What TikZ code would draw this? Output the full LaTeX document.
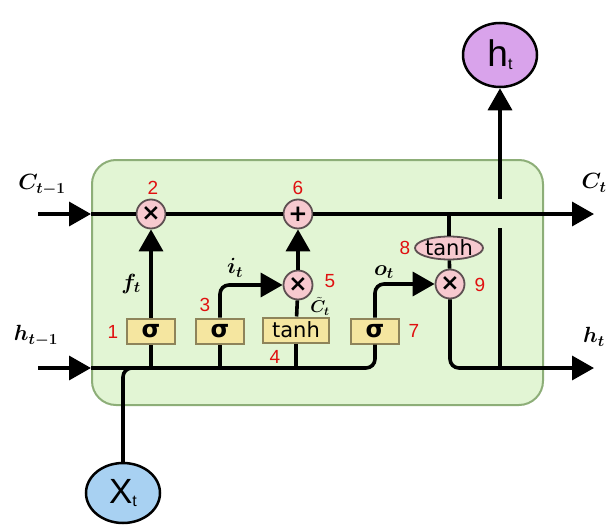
\RequirePackage{fix-cm}
\documentclass[tikz,border=0pt]{standalone}
\usepackage{fontspec}
\usepackage{bm}
\usetikzlibrary{arrows.meta,shapes.geometric}
\newfontfamily\lsans{Liberation Sans}
\newfontfamily\dvsans{DejaVu Sans}
\definecolor{cellfill}{HTML}{E2F5D4}
\definecolor{celledge}{HTML}{8DAE78}
\definecolor{gatefill}{HTML}{F5E6A0}
\definecolor{gateedge}{HTML}{8E845A}
\definecolor{opfill}{HTML}{F7C9CF}
\definecolor{opedge}{HTML}{5E5052}
\definecolor{xfill}{HTML}{A8D1F2}
\definecolor{hfill}{HTML}{D9A3EB}
\definecolor{numred}{HTML}{E01010}
\begin{document}
\begin{tikzpicture}[x=1pt,y=-1pt,
  wire/.style={line width=3.6pt, black},
  arr/.style={wire, -{Triangle[length=22pt,width=24pt]}},
  cellbox/.style={draw=celledge, fill=cellfill, line width=2pt, rounded corners=24pt},
  gate/.style={draw=gateedge, fill=gatefill, line width=2pt, minimum width=48pt, minimum height=25pt, inner sep=0pt, font=\dvsans\fontsize{21}{21}\selectfont},
  op/.style={circle, draw=opedge, fill=opfill, line width=1.8pt, minimum size=29pt, inner sep=0pt, font=\dvsans\bfseries\fontsize{23}{23}\selectfont},
  opell/.style={ellipse, draw=opedge, fill=opfill, line width=1.8pt, minimum width=68pt, minimum height=21pt, inner sep=0pt, font=\dvsans\fontsize{21}{21}\selectfont},
  io/.style={ellipse, draw=black, line width=2.5pt, inner sep=0pt},
  lab/.style={font=\fontsize{22}{24}\selectfont},
  num/.style={text=numred, font=\lsans\fontsize{19}{19}\selectfont},
]
\useasboundingbox (0,0) rectangle (614,530);
% cell background
\draw[cellbox] (92,160) rectangle (543,405);

% nodes
\node[op] (c2) at (151,214) {×};
\node[op] (c6) at (298,214) {+};
\node[op] (m5) at (298,285) {×};
\node[op] (m9) at (450,284) {×};
\node[opell] (tanh8) at (449,248) {tanh};
\node[gate] (sig1) at (151,331) {\fontsize{24}{24}\selectfont\bfseries σ};
\node[gate] (sig3) at (220,331) {\fontsize{24}{24}\selectfont\bfseries σ};
\node[gate, minimum width=66pt] (tanh4) at (296,330) {tanh};
\node[gate] (sig7) at (375,331) {\fontsize{24}{24}\selectfont\bfseries σ};
\node[io, fill=xfill, minimum width=74pt, minimum height=60pt] (xt) at (123,493)
  {\lsans\fontsize{35}{35}\selectfont X\raisebox{-3pt}{\fontsize{16}{16}\selectfont t}};
\node[io, fill=hfill, minimum width=74pt, minimum height=64pt] (ht) at (500,55)
  {\lsans\fontsize{37}{37}\selectfont h\raisebox{-3pt}{\fontsize{16}{16}\selectfont t}};

% free ends
\coordinate (cin) at (38,214);
\coordinate (cinb) at (91,214);
\coordinate (cout) at (594,214);
\coordinate (hin) at (38,368);
\coordinate (hinb) at (91,368);
\coordinate (hout) at (594,368);
\coordinate (gapb) at (500,228);
\coordinate (gapt) at (500,199);

% cell state line
\draw[arr] (cin) -- (cinb);
\draw[wire] (cinb) -- (c2);
\draw[wire] (c2) -- (c6);
\draw[arr] (c6) -- (cout);
% hidden input line
\draw[arr] (hin) -- (hinb);
\draw[wire, rounded corners=9pt] (hinb) -- (sig7.south |- hinb) -- (sig7.south);
\draw[wire, rounded corners=9pt] (xt.north) -- (xt.north |- hinb) -- ++(22,0);
\draw[wire] (sig1.south |- hinb) -- (sig1.south);
\draw[wire] (sig3.south |- hinb) -- (sig3.south);
\draw[wire] (tanh4.south |- hinb) -- (tanh4.south);
% gates
\draw[arr] (sig1) -- (c2);
\draw[arr, rounded corners=9pt] (sig3.north) |- (m5.west);
\draw[wire] (tanh4) -- (m5);
\draw[arr] (m5) -- (c6);
\draw[arr, rounded corners=9pt] (sig7.north) |- (m9.west);
\draw[wire] (tanh8.north |- c6) -- (tanh8);
\draw[wire] (tanh8) -- (m9);
\draw[arr, rounded corners=9pt] (m9.south) |- (hout);
% output to h_t
\draw[wire] (ht.south |- hout) -- (gapb);
\draw[arr] (gapt) -- (ht.south);

% labels
\node[lab] (lC0) at (42,185) {$\bm{C_{t-1}}$};
\node[lab] (lh0) at (36,336) {$\bm{h_{t-1}}$};
\node[lab] (lC1) at (594,183) {$\bm{C_{t}}$};
\node[lab] (lh1) at (594,337) {$\bm{h_{t}}$};
\node[lab] (lf) at (131,284) {$\bm{f_{t}}$};
\node[lab] (li) at (235,268) {$\bm{i_{t}}$};
\node[lab] (lo) at (384,272) {$\bm{o_{t}}$};
\node[lab, font=\fontsize{17}{19}\selectfont, inner sep=0pt] (lct) at (320,306) {$\bm{\tilde{C}_{t}}$};

% numbers
\node[num] (n1) at (113,332) {1};
\node[num] (n2) at (153,188) {2};
\node[num] (n3) at (205,305) {3};
\node[num] (n4) at (275,357) {4};
\node[num, inner sep=0pt] (n5) at (330,281) {5};
\node[num] (n6) at (298,188) {6};
\node[num] (n7) at (414,331) {7};
\node[num] (n8) at (405,248) {8};
\node[num] (n9) at (480,285) {9};
\end{tikzpicture}
\end{document}
